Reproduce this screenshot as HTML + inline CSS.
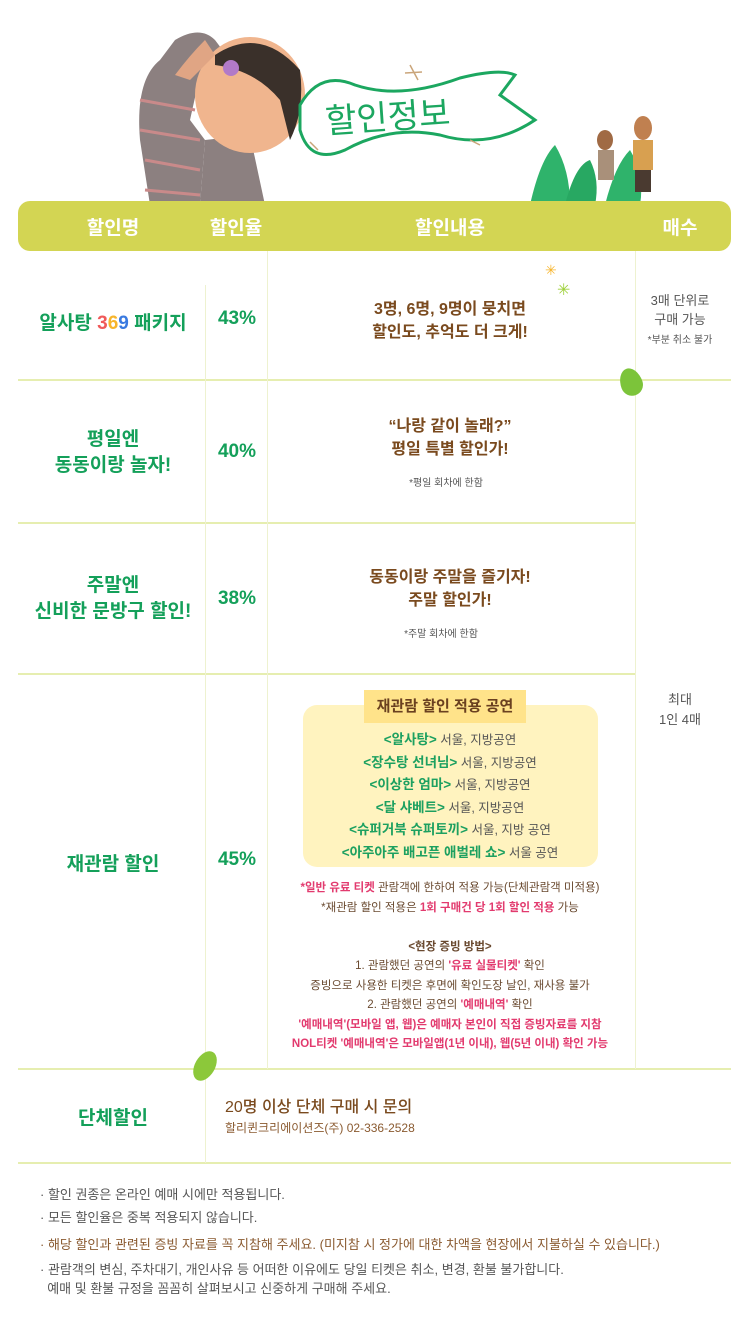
<!DOCTYPE html>
<html><head><meta charset="utf-8"><style>
*{margin:0;padding:0;box-sizing:border-box}
body{width:750px;height:1324px;background:#fff;position:relative;overflow:hidden;font-family:"Liberation Sans","Noto Sans CJK KR",sans-serif}
.a{position:absolute}
.c{position:absolute;text-align:center;transform:translateX(-50%);white-space:nowrap}
.g{color:#14a05a;font-weight:700}
.br{color:#7a4a1e;font-weight:700}
.pk{color:#e23a6e;font-weight:700}
.hl{position:absolute;left:18px;width:713px;height:2px;background:#e6eeb0}
.vl{position:absolute;width:1px;background:#eef2d0}
</style></head><body>
<svg class="a" style="left:0;top:0" width="750" height="205">
 <path d="M150 205 L140 140 Q135 80 160 60 L175 40 Q200 25 215 40 L230 60 L200 75 L190 120 L205 140 L200 205Z" fill="#8c8080"/>
 <g stroke="#c98a8a" stroke-width="3"><line x1="140" y1="100" x2="195" y2="110"/><line x1="140" y1="130" x2="200" y2="140"/><line x1="145" y1="160" x2="200" y2="170"/><line x1="145" y1="190" x2="200" y2="195"/></g>
 <path d="M200 205 L205 140 L250 135 L265 205Z" fill="#8c8080"/>
 <ellipse cx="250" cy="95" rx="55" ry="58" fill="#f0b58e"/>
 <path d="M215 55 Q260 25 300 70 Q305 110 290 140 L280 100 Q255 70 215 65Z" fill="#3a302a"/>
 <circle cx="231" cy="68" r="8" fill="#b27ac8"/>
 <path d="M205 40 Q190 55 175 75 L190 80 L215 55Z" fill="#e0a584"/>
 <path d="M300 105 Q320 70 355 85 Q400 100 460 78 Q500 68 515 75 L500 95 L535 120 Q490 150 440 135 Q390 125 345 150 Q310 165 300 130Z" fill="#fff" stroke="#1ca760" stroke-width="3"/>
 <text x="325" y="128" font-family="Noto Sans CJK KR" font-size="34" fill="#1ca760" transform="rotate(-4 400 115)">할인정보</text>
 <g stroke="#caa57a" stroke-width="1.5"><line x1="410" y1="65" x2="418" y2="80"/><line x1="405" y1="73" x2="422" y2="72"/><line x1="470" y1="140" x2="480" y2="145"/><line x1="310" y1="142" x2="318" y2="150"/></g>
 <path d="M530 205 Q540 160 555 145 Q570 170 570 205Z" fill="#2fb36b"/>
 <path d="M565 205 Q575 165 590 160 Q600 180 595 205Z" fill="#28a862"/>
 <path d="M605 205 Q615 165 630 150 Q645 175 640 205Z" fill="#2fb36b"/>
 <ellipse cx="605" cy="140" rx="8" ry="10" fill="#a06a44"/><rect x="598" y="150" width="16" height="30" fill="#a9907a"/>
 <ellipse cx="643" cy="128" rx="9" ry="12" fill="#c08050"/><rect x="633" y="140" width="20" height="30" fill="#d8a050"/><rect x="635" y="170" width="16" height="22" fill="#4a3a30"/>
</svg>
<div class="a" style="left:18px;top:201px;width:713px;height:50px;background:#d3d553;border-radius:12px"></div>
<div class="c" style="left:113px;top:213px;color:#fff;font-size:19px;font-weight:700">할인명</div>
<div class="c" style="left:236px;top:213px;color:#fff;font-size:19px;font-weight:700">할인율</div>
<div class="c" style="left:450px;top:213px;color:#fff;font-size:19px;font-weight:700">할인내용</div>
<div class="c" style="left:680px;top:213px;color:#fff;font-size:19px;font-weight:700">매수</div>
<div class="hl" style="top:379px"></div>
<div class="hl" style="top:522px;left:18px;width:617px"></div>
<div class="hl" style="top:673px;left:18px;width:617px"></div>
<div class="hl" style="top:1068px"></div>
<div class="hl" style="top:1162px"></div>
<div class="vl" style="left:205px;top:285px;height:878px"></div>
<div class="vl" style="left:267px;top:251px;height:818px"></div>
<div class="vl" style="left:635px;top:251px;height:818px"></div>
<div class="c g" style="left:113px;top:308px;font-size:19px">알사탕 <span style="color:#f05a5a">3</span><span style="color:#f7b52c">6</span><span style="color:#3a7ae0">9</span> 패키지</div>
<div class="c g" style="left:237px;top:308px;font-size:19px">43%</div>
<div class="c br" style="left:450px;top:298px;font-size:16px;line-height:23px">3명, 6명, 9명이 뭉치면<br>할인도, 추억도 더 크게!</div>
<div class="c" style="left:680px;top:291px;font-size:13px;line-height:19px;color:#555">3매 단위로<br>구매 가능<br><span style="font-size:10px">*부분 취소 불가</span></div>
<div class="a" style="left:545px;top:262px;color:#f7b52c;font-size:14px">✳</div>
<div class="a" style="left:557px;top:280px;color:#9ed03a;font-size:16px">✳</div>
<div class="a" style="left:620px;top:368px;width:22px;height:28px;background:#7cc43a;border-radius:50% 50% 50% 50%/60% 60% 40% 40%;transform:rotate(-20deg)"></div>
<div class="c g" style="left:113px;top:427px;font-size:19px;line-height:26px">평일엔<br>동동이랑 놀자!</div>
<div class="c g" style="left:237px;top:441px;font-size:19px">40%</div>
<div class="c br" style="left:450px;top:415px;font-size:16px;line-height:23px">“나랑 같이 놀래?”<br>평일 특별 할인가!</div>
<div class="c" style="left:446px;top:474px;font-size:10px;color:#555">*평일 회차에 한함</div>
<div class="c g" style="left:113px;top:573px;font-size:19px;line-height:26px">주말엔<br>신비한 문방구 할인!</div>
<div class="c g" style="left:237px;top:588px;font-size:19px">38%</div>
<div class="c br" style="left:450px;top:566px;font-size:16px;line-height:23px">동동이랑 주말을 즐기자!<br>주말 할인가!</div>
<div class="c" style="left:441px;top:625px;font-size:10px;color:#555">*주말 회차에 한함</div>
<div class="c" style="left:680px;top:690px;font-size:13px;line-height:20px;color:#555">최대<br>1인 4매</div>
<div class="c g" style="left:113px;top:849px;font-size:19px">재관람 할인</div>
<div class="c g" style="left:237px;top:849px;font-size:19px">45%</div>
<div class="a" style="left:303px;top:705px;width:295px;height:162px;background:#fff3bf;border-radius:14px"></div>
<div class="c" style="left:445px;top:690px;width:162px;height:33px;background:#ffe38a;font-size:15px;font-weight:700;color:#6a4020;line-height:33px">재관람 할인 적용 공연</div>
<div class="c" style="left:450px;top:729px;font-size:12.5px;line-height:21.5px;color:#555">
<b style="color:#1ca060;font-size:13.5px">&lt;알사탕&gt;</b> 서울, 지방공연<br>
<b style="color:#1ca060;font-size:13.5px">&lt;장수탕 선녀님&gt;</b> 서울, 지방공연<br>
<b style="color:#1ca060;font-size:13.5px">&lt;이상한 엄마&gt;</b> 서울, 지방공연<br>
<b style="color:#1ca060;font-size:13.5px">&lt;달 샤베트&gt;</b> 서울, 지방공연<br>
<b style="color:#1ca060;font-size:13.5px">&lt;슈퍼거북 슈퍼토끼&gt;</b> 서울, 지방 공연<br>
<b style="color:#1ca060;font-size:13.5px">&lt;아주아주 배고픈 애벌레 쇼&gt;</b> 서울 공연</div>
<div class="c" style="left:450px;top:879px;font-size:11.5px;line-height:19.5px;color:#6a4a30">
<span class="pk">*일반 유료 티켓</span> 관람객에 한하여 적용 가능(단체관람객 미적용)<br>
*재관람 할인 적용은 <span class="pk">1회 구매건 당 1회 할인 적용</span> 가능<br><br>
<b>&lt;현장 증빙 방법&gt;</b><br>
1. 관람했던 공연의 <span class="pk">'유료 실물티켓'</span> 확인<br>
증빙으로 사용한 티켓은 후면에 확인도장 날인, 재사용 불가<br>
2. 관람했던 공연의 <span class="pk">'예매내역'</span> 확인<br>
<span class="pk">'예매내역'(모바일 앱, 웹)은 예매자 본인이 직접 증빙자료를 지참</span><br>
<span class="pk">NOL티켓 '예매내역'은 모바일앱(1년 이내), 웹(5년 이내) 확인 가능</span></div>
<div class="a" style="left:195px;top:1050px;width:20px;height:32px;background:#8cc83a;border-radius:50%;transform:rotate(30deg)"></div>
<div class="c g" style="left:113px;top:1103px;font-size:19px">단체할인</div>
<div class="a" style="left:225px;top:1093px;font-size:16px;font-weight:500;color:#7a4a1e">20명 이상 단체 구매 시 문의</div>
<div class="a" style="left:225px;top:1119px;font-size:12px;color:#8a5a30">할리퀸크리에이션즈(주) 02-336-2528</div>
<div class="a" style="left:40px;top:1183px;font-size:13px;line-height:23px;color:#555">
· 할인 권종은 온라인 예매 시에만 적용됩니다.<br>
· 모든 할인율은 중복 적용되지 않습니다.<br>
<span style="color:#8a5a30;display:inline-block;margin-top:4px">· 해당 할인과 관련된 증빙 자료를 꼭 지참해 주세요. (미지참 시 정가에 대한 차액을 현장에서 지불하실 수 있습니다.)</span><br>
<span style="display:inline-block;margin-top:4px;line-height:19px">· 관람객의 변심, 주차대기, 개인사유 등 어떠한 이유에도 당일 티켓은 취소, 변경, 환불 불가합니다.<br>&nbsp;&nbsp;예매 및 환불 규정을 꼼꼼히 살펴보시고 신중하게 구매해 주세요.</span></div>
</body></html>
